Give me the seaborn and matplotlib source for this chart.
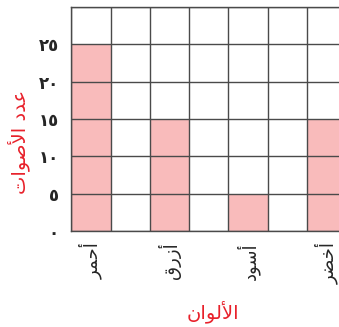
import matplotlib
matplotlib.use("Agg")
import matplotlib.pyplot as plt
import seaborn as sns
import pandas as pd

# colours (logical order) and the number of votes for each
colours = ["أحمر", "أزرق", "أسود", "أخضر"]
votes = [25, 15, 5, 15]
y_ticks = [0, 5, 10, 15, 20, 25]

# matplotlib does no Arabic shaping: presentation forms in visual order
shaped = {
    "أحمر": "\uFEAE\uFEE4\uFEA3\uFE83",
    "أزرق": "\uFED5\uFEAD\uFEAF\uFE83",
    "أسود": "\uFEA9\uFEEE\uFEB3\uFE83",
    "أخضر": "\uFEAE\uFEC0\uFEA7\uFE83",
}
x_title = "\uFEE5\uFE8D\uFEEE\uFEDF\uFEF7\uFE8D"          # الألوان
y_title = "\uFE95\uFE8D\uFEEE\uFEBB\uFEF7\uFE8D \uFEA9\uFEAA\uFECB"  # عدد الأصوات

ARABIC_DIGITS = str.maketrans("0123456789", "٠١٢٣٤٥٦٧٨٩")

# an empty column sits between each pair of colours
order = []
for i, c in enumerate(colours):
    order.append(c)
    if i < len(colours) - 1:
        order.append(" " * (i + 1))

df = pd.DataFrame({"colour": colours, "votes": votes})

sns.set_style("white")
plt.rcParams["font.family"] = ["DejaVu Sans"]

fig = plt.figure(figsize=(3.39, 3.27), dpi=100)
cell_w = 39.3 / 339
ax = fig.add_axes([71.3 / 339, 96 / 327, cell_w * len(order), 224 / 327])

sns.barplot(data=df, x="colour", y="votes", order=order, width=1.0,
            color="#F9BBBB", saturation=1, edgecolor="none", ax=ax)

ax.set_xlim(-0.5, len(order) - 0.5)
ax.set_ylim(0, 30)
ax.xaxis.remove_overlapping_locs = False
ax.yaxis.remove_overlapping_locs = False
ax.set_xticks([x - 0.5 for x in range(len(order) + 1)], minor=True)
ax.set_yticks(range(0, 31, 5), minor=True)
ax.grid(which="minor", color="#4a4a4a", linewidth=1.0)
ax.grid(which="major", visible=False)
ax.set_axisbelow(False)
for s in ax.spines.values():
    s.set_color("#4a4a4a")
    s.set_linewidth(1.0)

ax.set_yticks(y_ticks)
ax.set_yticklabels([str(v).translate(ARABIC_DIGITS) for v in y_ticks],
                   fontsize=12, fontweight="bold")
ax.set_xticks([order.index(c) for c in colours])
ax.set_xticklabels([shaped[c] for c in colours], rotation=90, fontsize=13,
                   va="top", ha="center")
ax.tick_params(which="both", length=0)
ax.tick_params(axis="y", pad=9)
ax.tick_params(axis="x", pad=8)

ax.set_xlabel("")
ax.set_ylabel("")
fig.text(213 / 339, 1 - 312 / 327, x_title, color="#E8212B", fontsize=14,
         ha="center", va="center")
fig.text(19 / 339, 1 - 142 / 327, y_title, color="#E8212B", fontsize=14,
         ha="center", va="center", rotation=90)

fig.savefig("out.png", dpi=100)
